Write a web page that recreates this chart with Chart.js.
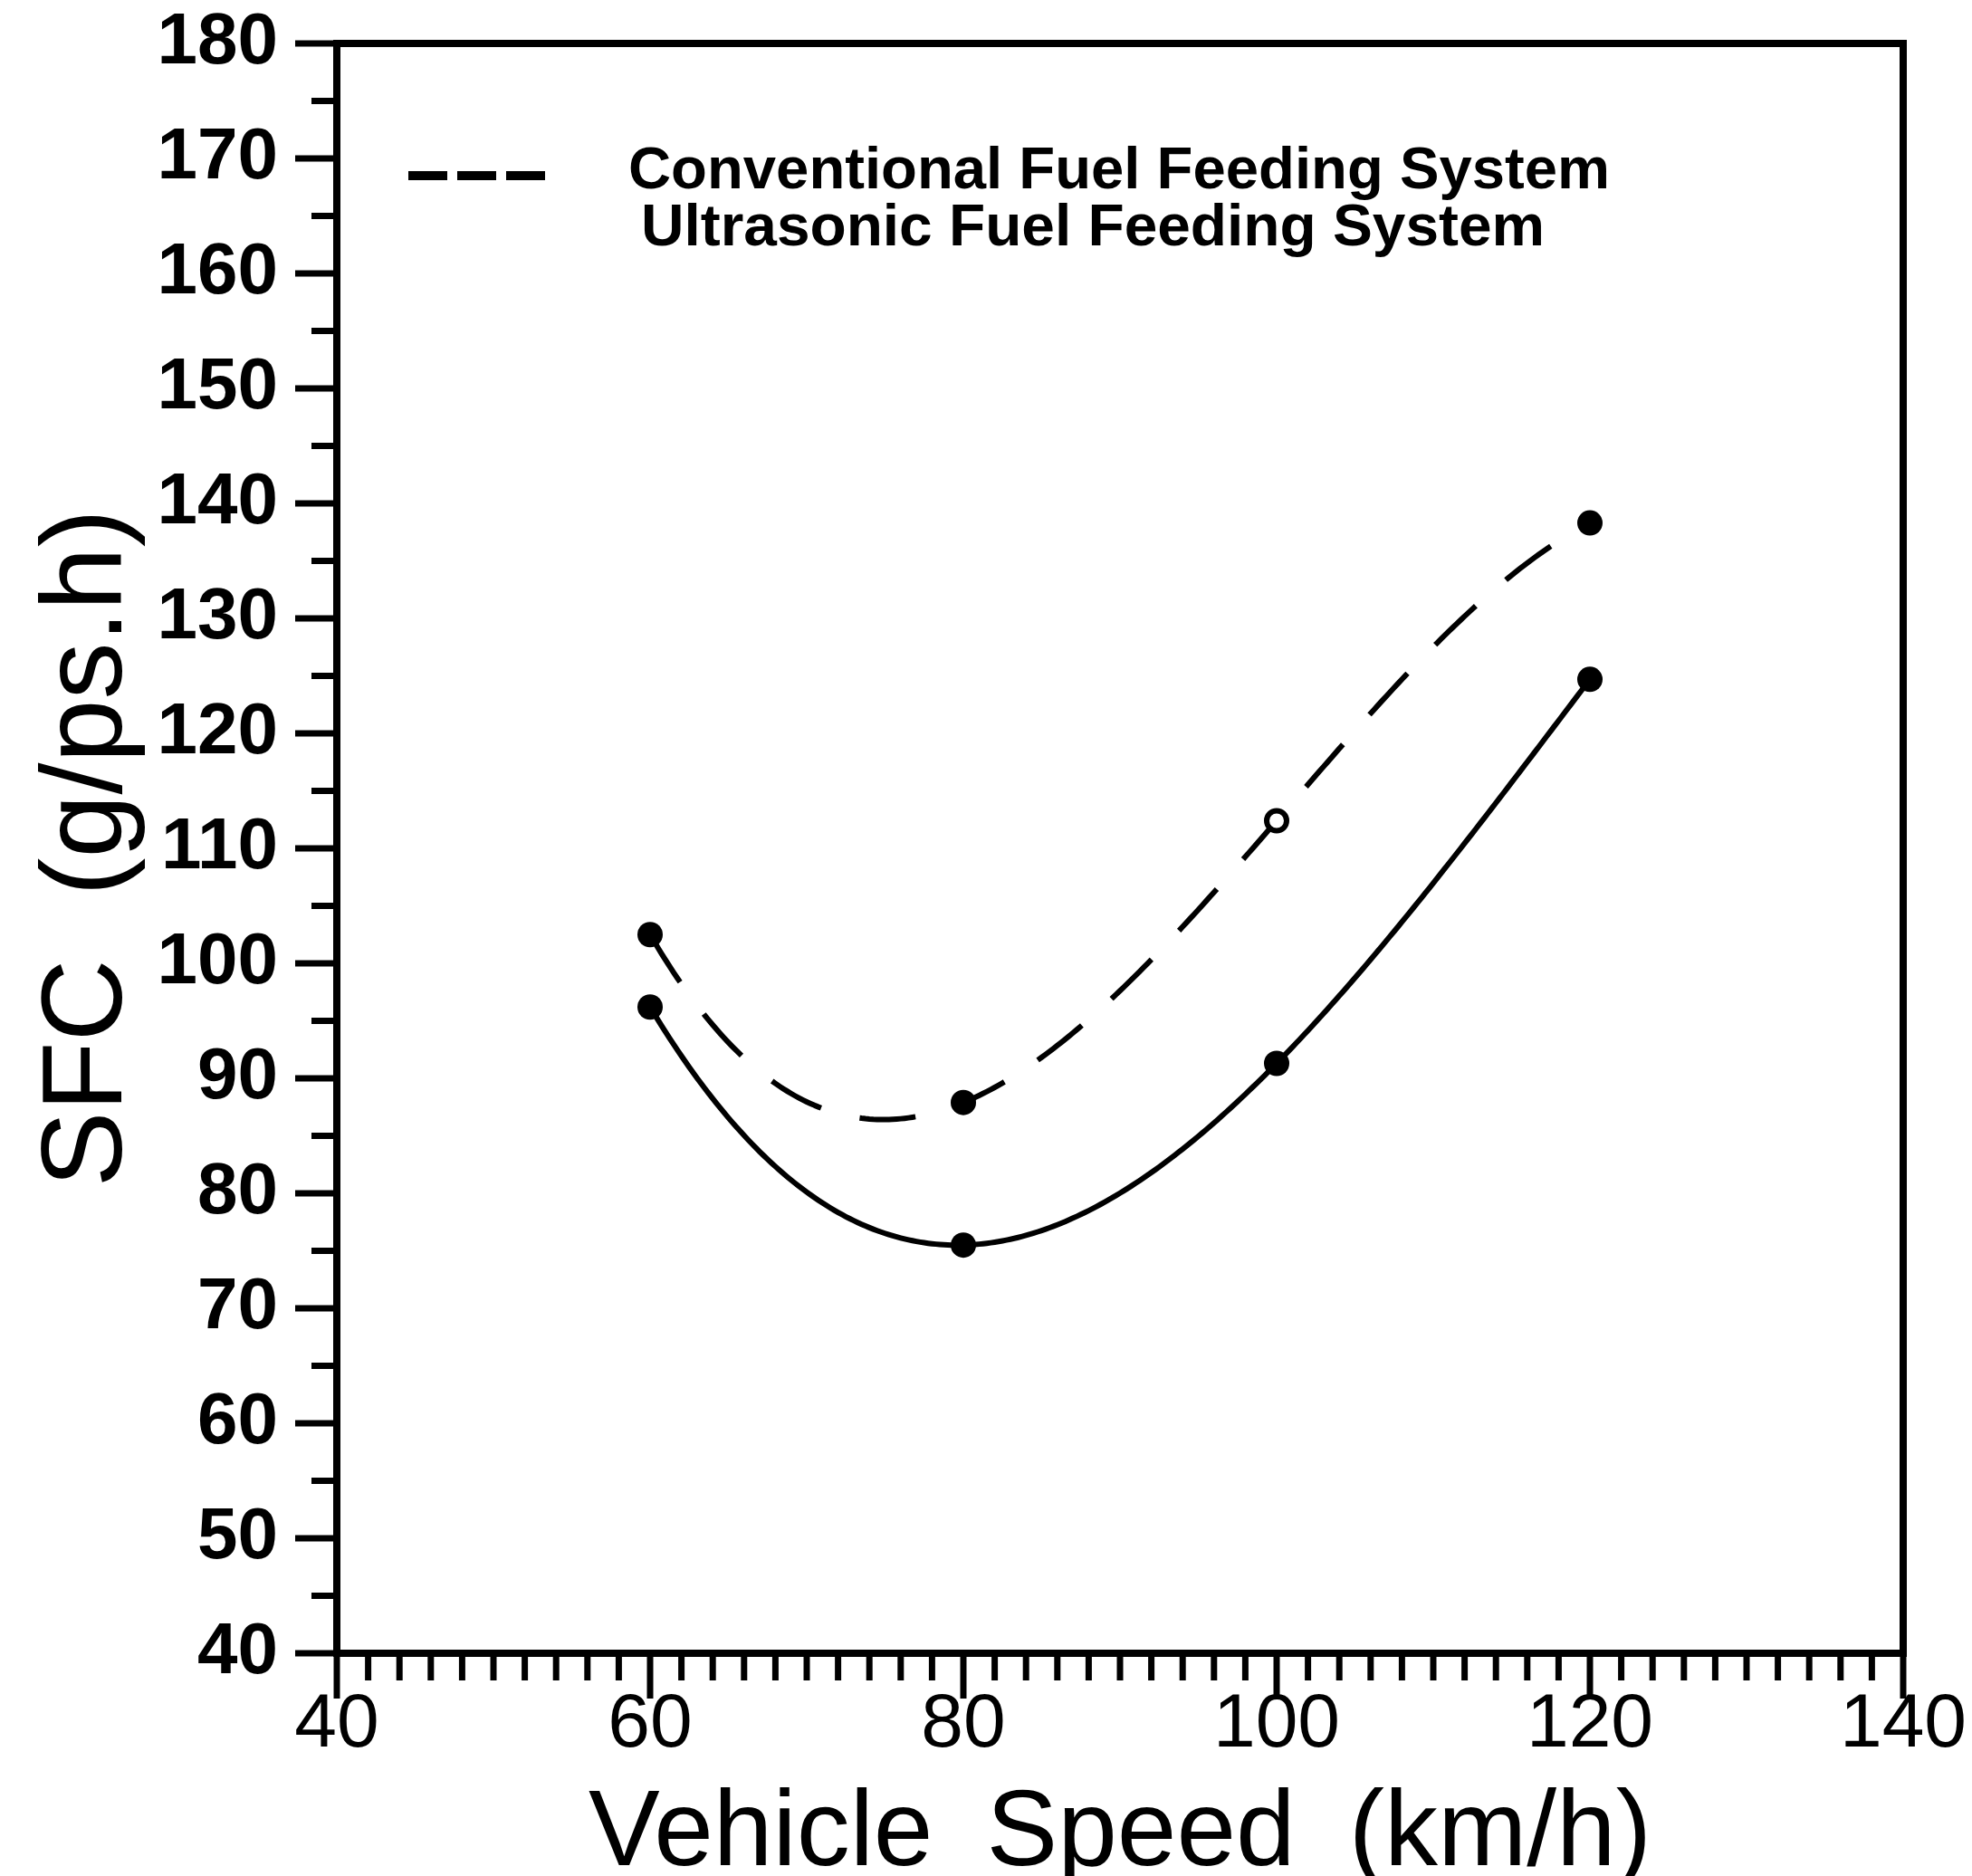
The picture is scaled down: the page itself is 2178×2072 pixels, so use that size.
<!DOCTYPE html>
<html>
<head>
<meta charset="utf-8">
<title>SFC vs Vehicle Speed</title>
<script src="https://cdn.jsdelivr.net/npm/chart.js@4.4.1/dist/chart.umd.min.js"></script>
<style>
  html, body { margin: 0; padding: 0; background: #fff; }
  #wrap { width: 2178px; height: 2072px; position: relative; }
</style>
</head>
<body>
<div id="wrap"><canvas id="sfcChart"></canvas></div>
<script>
// vehicle speeds (km/h) where SFC was measured
const speeds = [60, 80, 100, 120];
// SFC (g/ps.h)
const conventionalSfc = [102.5, 87.9, 112.4, 138.3];
const ultrasonicSfc = [96.2, 75.5, 91.3, 124.7];

const seriesLabels = ['Conventional Fuel Feeding System', 'Ultrasonic Fuel Feeding System'];
// en spaces: the original plotter font leaves wide gaps between words
const xTitle = 'Vehicle\u2002Speed\u2002(km/h)';
const yTitle = 'SFC  (g/ps.h)';

const FONT = "'Liberation Sans', Arial, sans-serif";

// the original curves are the cubic that passes through the 4 measured points
function lagrange(xs, ys, v) {
    let sum = 0;
    for (let i = 0; i < xs.length; i++) {
        let term = ys[i];
        for (let j = 0; j < xs.length; j++) {
            if (j !== i) term *= (v - xs[j]) / (xs[i] - xs[j]);
        }
        sum += term;
    }
    return sum;
}

const polyCurves = {
    id: 'polyCurves',
    beforeDatasetsDraw(chart) {
        const { ctx, chartArea: a, scales: { x, y } } = chart;
        chart.data.datasets.forEach(ds => {
            const xs = ds.data.map(p => p.x);
            const ys = ds.data.map(p => p.y);
            ctx.save();
            ctx.beginPath();
            ctx.rect(a.left, a.top, a.right - a.left, a.bottom - a.top);
            ctx.clip();
            ctx.strokeStyle = ds.borderColor;
            ctx.lineWidth = ds.borderWidth;
            ctx.lineJoin = 'round';
            ctx.setLineDash(ds.borderDash || []);
            ctx.beginPath();
            const first = xs[0], last = xs[xs.length - 1];
            for (let v = first; v <= last + 1e-9; v += 0.25) {
                const px = x.getPixelForValue(v);
                const py = y.getPixelForValue(lagrange(xs, ys, v));
                if (v === first) ctx.moveTo(px, py); else ctx.lineTo(px, py);
            }
            ctx.stroke();
            ctx.restore();
        });
    }
};

// box around the plot + the tick marks (minor and major, pointing outwards)
const frameAndTicks = {
    id: 'frameAndTicks',
    afterDraw(chart) {
        const { ctx, chartArea: a, scales: { x, y } } = chart;
        ctx.save();
        ctx.strokeStyle = '#000';
        ctx.lineCap = 'butt';

        ctx.lineWidth = 7;
        for (let v = x.min; v <= x.max; v += 2) {
            const px = x.getPixelForValue(v);
            const len = v % 20 === 0 ? 50 : 30;
            ctx.beginPath();
            ctx.moveTo(px, a.bottom);
            ctx.lineTo(px, a.bottom + len);
            ctx.stroke();
        }
        for (let v = y.min; v <= y.max; v += 5) {
            const py = y.getPixelForValue(v);
            const len = v % 10 === 0 ? 46 : 28;
            ctx.beginPath();
            ctx.moveTo(a.left, py);
            ctx.lineTo(a.left - len, py);
            ctx.stroke();
        }

        ctx.lineWidth = 8;
        ctx.strokeRect(a.left, a.top, a.right - a.left, a.bottom - a.top);
        ctx.restore();
    }
};

// legend sits inside the plot, the original only shows a sample for the dashed curve
const insideLegend = {
    id: 'insideLegend',
    afterDraw(chart) {
        const ctx = chart.ctx;
        ctx.save();
        ctx.strokeStyle = '#000';
        ctx.lineWidth = 10;
        ctx.setLineDash([43, 11]);
        ctx.beginPath();
        ctx.moveTo(451, 194);
        ctx.lineTo(602, 194);
        ctx.stroke();
        ctx.setLineDash([]);

        ctx.fillStyle = '#000';
        ctx.font = 'bold 64px ' + FONT;
        ctx.textBaseline = 'alphabetic';
        const rows = [
            { text: seriesLabels[0], x: 694, y: 208, w: 1084 },
            { text: seriesLabels[1], x: 708, y: 271, w: 998 }
        ];
        rows.forEach(r => {
            const natural = ctx.measureText(r.text).width;
            ctx.save();
            ctx.translate(r.x, r.y);
            ctx.scale(r.w / natural, 1);
            ctx.fillText(r.text, 0, 0);
            ctx.restore();
        });
        ctx.restore();
    }
};

const ctx = document.getElementById('sfcChart').getContext('2d');
const chart = new Chart(ctx, {
    type: 'line',
    data: {
        datasets: [
            {
                label: seriesLabels[0],
                data: speeds.map((s, i) => ({ x: s, y: conventionalSfc[i] })),
                showLine: false,
                borderColor: '#000',
                borderWidth: 6,
                borderDash: [62, 44],
                pointRadius: [14, 14, 11, 14],
                pointBorderWidth: [0, 0, 6, 0],
                pointBorderColor: '#000',
                pointBackgroundColor: ['#000', '#000', '#fff', '#000']
            },
            {
                label: seriesLabels[1],
                data: speeds.map((s, i) => ({ x: s, y: ultrasonicSfc[i] })),
                showLine: false,
                borderColor: '#000',
                borderWidth: 6,
                pointRadius: 14,
                pointBorderWidth: 0,
                pointBackgroundColor: '#000'
            }
        ]
    },
    options: {
        responsive: true,
        maintainAspectRatio: false,
        animation: false,
        layout: { padding: { left: 0, top: 48, right: 76, bottom: 0 } },
        plugins: {
            legend: { display: false },
            tooltip: { enabled: false }
        },
        scales: {
            x: {
                type: 'linear',
                min: 40,
                max: 140,
                // tick marks are drawn by frameAndTicks, tickLength only spaces the labels
                grid: { display: false, drawTicks: true, tickLength: 29 },
                border: { display: false },
                ticks: {
                    stepSize: 20,
                    padding: 0,
                    color: '#000',
                    font: { family: FONT, size: 84 }
                },
                title: {
                    display: true,
                    text: xTitle,
                    color: '#000',
                    font: { family: FONT, size: 118, lineHeight: 0.76 },
                    padding: { top: 0, bottom: 0 }
                },
                afterFit: scale => { scale.height = 246; }
            },
            y: {
                min: 40,
                max: 180,
                grid: { display: false, drawTicks: true, tickLength: 65 },
                border: { display: false },
                ticks: {
                    stepSize: 10,
                    padding: 0,
                    color: '#000',
                    font: { family: FONT, size: 80, weight: 'bold' }
                },
                title: {
                    display: true,
                    text: yTitle,
                    color: '#000',
                    font: { family: FONT, size: 126 },
                    padding: { top: 24, bottom: 0 }
                },
                afterFit: scale => { scale.width = 372; }
            }
        }
    },
    plugins: [polyCurves, frameAndTicks, insideLegend]
});
</script>
</body>
</html>
